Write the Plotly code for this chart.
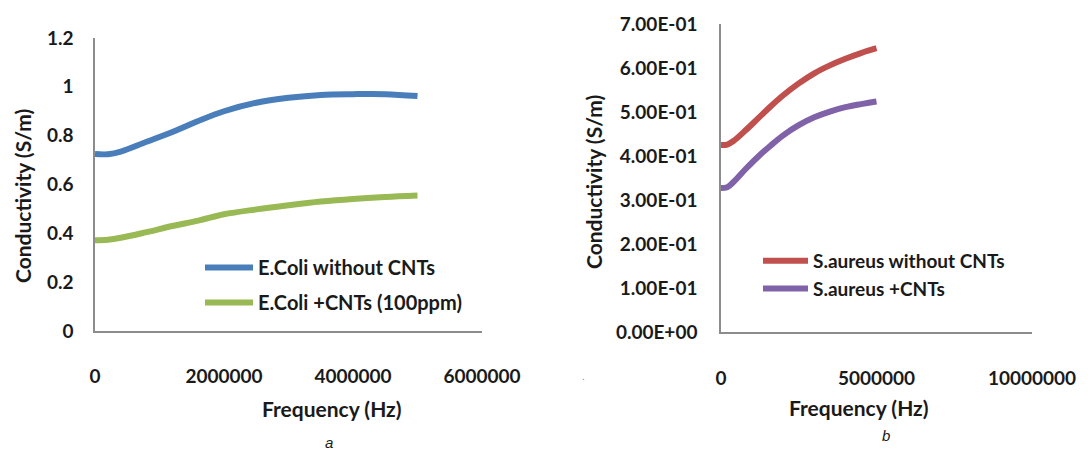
import plotly.graph_objects as go

freq = [0, 200000, 400000, 800000, 1200000, 1600000, 2000000, 2500000, 3000000, 3500000, 4000000, 4500000, 5000000]
ecoli_without = [0.725, 0.724, 0.735, 0.775, 0.815, 0.86, 0.90, 0.935, 0.955, 0.967, 0.970, 0.970, 0.962]
ecoli_cnt = [0.372, 0.374, 0.382, 0.405, 0.43, 0.452, 0.478, 0.498, 0.515, 0.53, 0.541, 0.549, 0.555]
saureus_without = [0.425, 0.426, 0.434, 0.459, 0.486, 0.513, 0.538, 0.565, 0.588, 0.606, 0.621, 0.634, 0.645]
saureus_cnt = [0.327, 0.329, 0.341, 0.371, 0.399, 0.424, 0.447, 0.47, 0.488, 0.501, 0.511, 0.518, 0.524]

left_y_ticks = [0, 0.2, 0.4, 0.6, 0.8, 1.0, 1.2]
left_y_text = ["0", "0.2", "0.4", "0.6", "0.8", "1", "1.2"]
left_x_ticks = [0, 2000000, 4000000, 6000000]
right_y_ticks = [0, 0.1, 0.2, 0.3, 0.4, 0.5, 0.6, 0.7]
right_y_text = ["0.00E+00", "1.00E-01", "2.00E-01", "3.00E-01", "4.00E-01", "5.00E-01", "6.00E-01", "7.00E-01"]
right_x_ticks = [0, 5000000, 10000000]

W, H = 1088, 451
FONT = "Lato"
INK = "#1a1a1a"
tickfont = dict(family=FONT, size=19, color=INK, weight="bold")
titlefont = dict(family=FONT, size=21, color=INK, weight="bold")

fig = go.Figure()
fig.add_trace(go.Scatter(x=freq, y=ecoli_without, mode="lines", name="E.Coli without CNTs",
                         line=dict(color="#4A7EBB", width=6, shape="spline"), xaxis="x", yaxis="y",
                         legend="legend", legendgroup="a1"))
fig.add_trace(go.Scatter(x=freq, y=ecoli_cnt, mode="lines", name="E.Coli +CNTs (100ppm)",
                         line=dict(color="#98B954", width=6, shape="spline"), xaxis="x", yaxis="y",
                         legend="legend", legendgroup="a2"))
fig.add_trace(go.Scatter(x=freq, y=saureus_without, mode="lines", name="S.aureus without CNTs",
                         line=dict(color="#C0504D", width=6, shape="spline"), xaxis="x2", yaxis="y2",
                         legend="legend2", legendgroup="b1"))
fig.add_trace(go.Scatter(x=freq, y=saureus_cnt, mode="lines", name="S.aureus +CNTs",
                         line=dict(color="#7F62A8", width=6, shape="spline"), xaxis="x2", yaxis="y2",
                         legend="legend2", legendgroup="b2"))

axline = dict(showline=True, linecolor="#8c8c8c", linewidth=1.5, showgrid=False, zeroline=False,
              ticks="", automargin=False, fixedrange=True)

fig.update_layout(
    width=W, height=H,
    margin=dict(l=0, r=0, t=0, b=0, autoexpand=False),
    paper_bgcolor="white", plot_bgcolor="white",
    xaxis=dict(domain=[87 / W, 474 / W], range=[0, 6000000], tickvals=left_x_ticks,
               ticktext=[str(v) for v in left_x_ticks], tickfont=tickfont, ticklabelstandoff=27,
               anchor="y", **axline),
    yaxis=dict(domain=[(H - 323) / H, (H - 30) / H], range=[0, 1.2], tickvals=left_y_ticks,
               ticktext=left_y_text, tickfont=tickfont, ticklabelstandoff=16, anchor="x", **axline),
    xaxis2=dict(domain=[713 / W, 1024 / W], range=[0, 10000000], tickvals=right_x_ticks,
                ticktext=[str(v) for v in right_x_ticks], tickfont=tickfont, ticklabelstandoff=28,
                anchor="y2", **axline),
    yaxis2=dict(domain=[(H - 324) / H, (H - 16) / H], range=[0, 0.7], tickvals=right_y_ticks,
                ticktext=right_y_text, tickfont=tickfont, ticklabelstandoff=18, anchor="x2", **axline),
    legend=dict(x=192 / W, y=(H - 240) / H, xanchor="left", yanchor="top",
                font=dict(family=FONT, size=20, color=INK, weight="bold"),
                bgcolor="rgba(0,0,0,0)", tracegroupgap=6, itemwidth=48),
    legend2=dict(x=750 / W, y=(H - 234) / H, xanchor="left", yanchor="top",
                 font=dict(family=FONT, size=19, color=INK, weight="bold"),
                 bgcolor="rgba(0,0,0,0)", tracegroupgap=0, itemwidth=45),
    showlegend=True,
)

annots = [
    dict(text="Frequency (Hz)", x=324 / W, y=(H - 400) / H, font=titlefont),
    dict(text="Frequency (Hz)", x=851 / W, y=(H - 399) / H, font=titlefont),
    dict(text="Conductivity (S/m)", x=14 / W, y=(H - 188) / H, textangle=-90, font=titlefont),
    dict(text="Conductivity (S/m)", x=585 / W, y=(H - 174) / H, textangle=-90, font=titlefont),
]
for a in annots:
    fig.add_annotation(xref="paper", yref="paper", xanchor="center", yanchor="middle",
                       showarrow=False, **a)
fig.add_annotation(text="<i>a</i>", x=315 / W, y=(H - 445) / H, xref="paper", yref="paper",
                   showarrow=False, font=dict(family="Liberation Sans", size=15, color=INK))
fig.add_annotation(text="<i>b</i>", x=884 / W, y=(H - 438) / H, xref="paper", yref="paper",
                   showarrow=False, font=dict(family="Liberation Sans", size=15, color=INK))
fig.add_annotation(text=".", x=575 / W, y=(H - 376) / H, xref="paper", yref="paper",
                   showarrow=False, font=dict(family="Liberation Sans", size=10, color="#888888"))

fig.write_html("out.html")
